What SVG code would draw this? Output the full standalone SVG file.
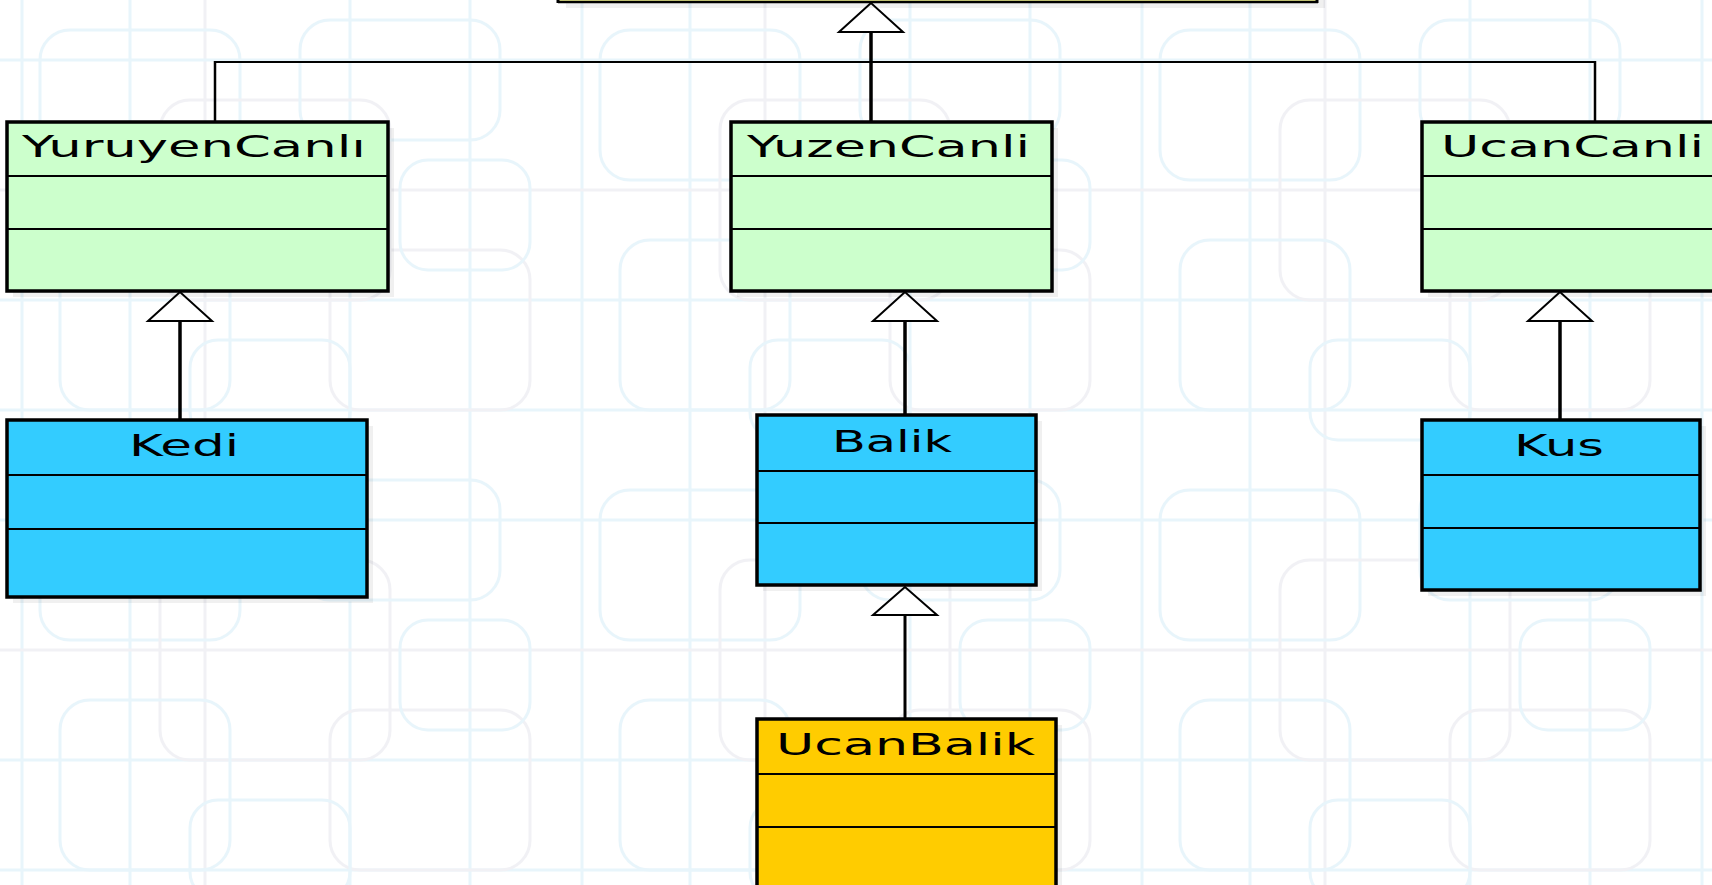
<svg xmlns="http://www.w3.org/2000/svg" width="1712" height="885" viewBox="0 0 1712 885">
  <style>
    .bgb { fill: none; stroke: #e8f5fb; stroke-width: 3; }
    .bgg { fill: none; stroke: #f1f1f5; stroke-width: 3; }
    .box { stroke: #000; stroke-width: 3.5; }
    .div { stroke: #000; stroke-width: 2; fill: none; }
    .shadow { fill: #000; opacity: 0.06; }
    .green { fill: #ccffcc; }
    .blue { fill: #33ccff; }
    .orange { fill: #ffcc00; }
    .yellow { fill: #ffff99; }
    .label { font-family: "DejaVu Sans", "Liberation Sans", sans-serif; font-size: 30px; fill: #000; }
    .line { stroke: #000; fill: none; }
    .tri { fill: #fff; stroke: #000; stroke-width: 2; stroke-linejoin: miter; }
  </style>
  <defs>
    <pattern id="bgpat" x="0" y="0" width="560" height="460" patternUnits="userSpaceOnUse">
      <rect width="560" height="460" fill="#fff"/>
      <line class="bgb" x1="22" y1="0" x2="22" y2="460"/>
      <line class="bgb" x1="130" y1="0" x2="130" y2="460"/>
      <line class="bgg" x1="205" y1="0" x2="205" y2="460"/>
      <line class="bgb" x1="350" y1="0" x2="350" y2="460"/>
      <line class="bgb" x1="470" y1="0" x2="470" y2="460"/>
      <line class="bgb" x1="0" y1="60" x2="560" y2="60"/>
      <line class="bgg" x1="0" y1="190" x2="560" y2="190"/>
      <line class="bgb" x1="0" y1="300" x2="560" y2="300"/>
      <line class="bgb" x1="0" y1="410" x2="560" y2="410"/>
      <rect class="bgb" x="40" y="30" width="200" height="150" rx="30"/>
      <rect class="bgg" x="160" y="100" width="230" height="200" rx="30"/>
      <rect class="bgb" x="300" y="20" width="200" height="120" rx="30"/>
      <rect class="bgb" x="60" y="240" width="170" height="170" rx="30"/>
      <rect class="bgg" x="330" y="250" width="200" height="160" rx="30"/>
      <rect class="bgb" x="400" y="160" width="130" height="110" rx="28"/>
      <rect class="bgb" x="190" y="340" width="160" height="100" rx="28"/>
    </pattern>
  </defs>
  <rect id="background" width="1712" height="885" fill="url(#bgpat)"/>

  <g id="connectors">
    <line class="line" x1="215" y1="62" x2="1595" y2="62" stroke-width="2"/>
    <line class="line" x1="215" y1="61" x2="215" y2="122" stroke-width="2.5"/>
    <line class="line" x1="1595" y1="61" x2="1595" y2="122" stroke-width="2.5"/>
    <line class="line" x1="871" y1="32" x2="871" y2="122" stroke-width="3.5"/>
    <polygon class="tri" points="871,3 839,32 903,32"/>
    <line class="line" x1="180" y1="321" x2="180" y2="420" stroke-width="3.5"/>
    <polygon class="tri" points="180,292 148,321 212,321"/>
    <line class="line" x1="905" y1="321" x2="905" y2="415" stroke-width="3.5"/>
    <polygon class="tri" points="905,292 873,321 937,321"/>
    <line class="line" x1="1560" y1="321" x2="1560" y2="420" stroke-width="3.5"/>
    <polygon class="tri" points="1560,292 1528,321 1592,321"/>
    <line class="line" x1="905" y1="615" x2="905" y2="719" stroke-width="3"/>
    <polygon class="tri" points="905,587 873,615 937,615"/>
  </g>

  <g id="node-top">
    <rect class="shadow" x="566" y="0" width="759" height="8"/>
    <rect class="yellow" x="558" y="-10" width="759" height="11"/>
    <line class="line" x1="558" y1="2" x2="1318" y2="2" stroke-width="2.5"/>
    <line class="line" x1="558" y1="-10" x2="558" y2="3" stroke-width="3"/>
    <line class="line" x1="1317" y1="-10" x2="1317" y2="3" stroke-width="3"/>
  </g>

  <g id="node-yuruyencanli">
    <rect class="shadow" x="13" y="128" width="381" height="169"/>
    <rect class="box green" x="7" y="122" width="381" height="169"/>
    <line class="div" x1="7" y1="176" x2="388" y2="176"/>
    <line class="div" x1="7" y1="229" x2="388" y2="229"/>
    <text class="label" x="22" y="157" textLength="344" lengthAdjust="spacingAndGlyphs">YuruyenCanlı</text>
  </g>

  <g id="node-yuzencanli">
    <rect class="shadow" x="737" y="128" width="321" height="169"/>
    <rect class="box green" x="731" y="122" width="321" height="169"/>
    <line class="div" x1="731" y1="176" x2="1052" y2="176"/>
    <line class="div" x1="731" y1="229" x2="1052" y2="229"/>
    <text class="label" x="747" y="157" textLength="283" lengthAdjust="spacingAndGlyphs">YuzenCanli</text>
  </g>

  <g id="node-ucancanli">
    <rect class="shadow" x="1428" y="128" width="300" height="169"/>
    <rect class="box green" x="1422" y="122" width="300" height="169"/>
    <line class="div" x1="1422" y1="176" x2="1722" y2="176"/>
    <line class="div" x1="1422" y1="229" x2="1722" y2="229"/>
    <text class="label" x="1441" y="157" textLength="263" lengthAdjust="spacingAndGlyphs">UcanCanli</text>
  </g>

  <g id="node-kedi">
    <rect class="shadow" x="13" y="426" width="360" height="177"/>
    <rect class="box blue" x="7" y="420" width="360" height="177"/>
    <line class="div" x1="7" y1="475" x2="367" y2="475"/>
    <line class="div" x1="7" y1="529" x2="367" y2="529"/>
    <text class="label" x="129" y="456" textLength="110" lengthAdjust="spacingAndGlyphs">Kedi</text>
  </g>

  <g id="node-balik">
    <rect class="shadow" x="763" y="421" width="279" height="170"/>
    <rect class="box blue" x="757" y="415" width="279" height="170"/>
    <line class="div" x1="757" y1="471" x2="1036" y2="471"/>
    <line class="div" x1="757" y1="523" x2="1036" y2="523"/>
    <text class="label" x="832" y="452" textLength="120" lengthAdjust="spacingAndGlyphs">Balik</text>
  </g>

  <g id="node-kus">
    <rect class="shadow" x="1428" y="426" width="278" height="170"/>
    <rect class="box blue" x="1422" y="420" width="278" height="170"/>
    <line class="div" x1="1422" y1="475" x2="1700" y2="475"/>
    <line class="div" x1="1422" y1="528" x2="1700" y2="528"/>
    <text class="label" x="1514" y="456" textLength="90" lengthAdjust="spacingAndGlyphs">Kus</text>
  </g>

  <g id="node-ucanbalik">
    <rect class="shadow" x="763" y="725" width="299" height="190"/>
    <rect class="box orange" x="757" y="719" width="299" height="190"/>
    <line class="div" x1="757" y1="774" x2="1056" y2="774"/>
    <line class="div" x1="757" y1="827" x2="1056" y2="827"/>
    <text class="label" x="776" y="755" textLength="259" lengthAdjust="spacingAndGlyphs">UcanBalik</text>
  </g>
</svg>
